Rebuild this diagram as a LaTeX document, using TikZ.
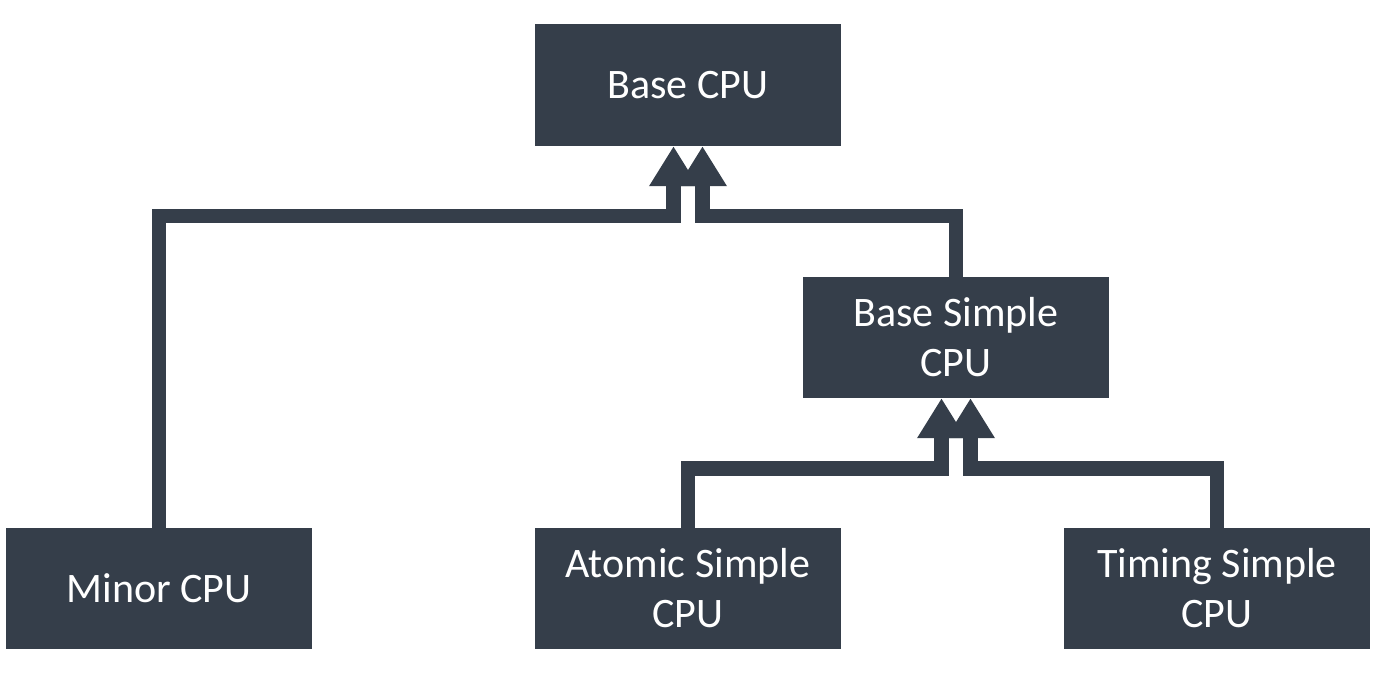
\documentclass[tikz,border=0pt]{standalone}
\usepackage{fontspec}
\setmainfont{Carlito}
\usetikzlibrary{arrows.meta,calc}
\definecolor{slate}{RGB}{53,62,74}
\begin{document}
\begin{tikzpicture}[x=1pt,y=-1pt,
  cpubox/.style={fill=slate, draw=none, text=white, minimum width=306pt, minimum height=121pt,
    inner sep=0pt, align=center, font=\fontsize{42}{50}\selectfont},
  conn/.style={draw=slate, line width=14.5pt, line join=miter,
    -{Triangle[width=46pt,length=40pt]}}]
\useasboundingbox (0,0) rectangle (1381,690);
\node[cpubox, minimum height=122pt] (base) at (688,85) {Base CPU};
\node[cpubox] (bsimple) at (956,337.5) {Base Simple\\CPU};
\node[cpubox] (minor) at (159,588.5) {Minor CPU};
\node[cpubox] (atomic) at (688,588.5) {Atomic Simple\\CPU};
\node[cpubox] (timing) at (1217,588.5) {Timing Simple\\CPU};
\coordinate (bL) at ($(base.south)+(-14.5,70)$);
\coordinate (bR) at ($(base.south)+(14.5,70)$);
\coordinate (sL) at ($(bsimple.south)+(-14.5,70.5)$);
\coordinate (sR) at ($(bsimple.south)+(14.5,70.5)$);
\draw[conn] (minor.north) |- (bL) -- (bL |- base.south);
\draw[conn] (bsimple.north) |- (bR) -- (bR |- base.south);
\draw[conn] (atomic.north) |- (sL) -- (sL |- bsimple.south);
\draw[conn] (timing.north) |- (sR) -- (sR |- bsimple.south);
\end{tikzpicture}
\end{document}
